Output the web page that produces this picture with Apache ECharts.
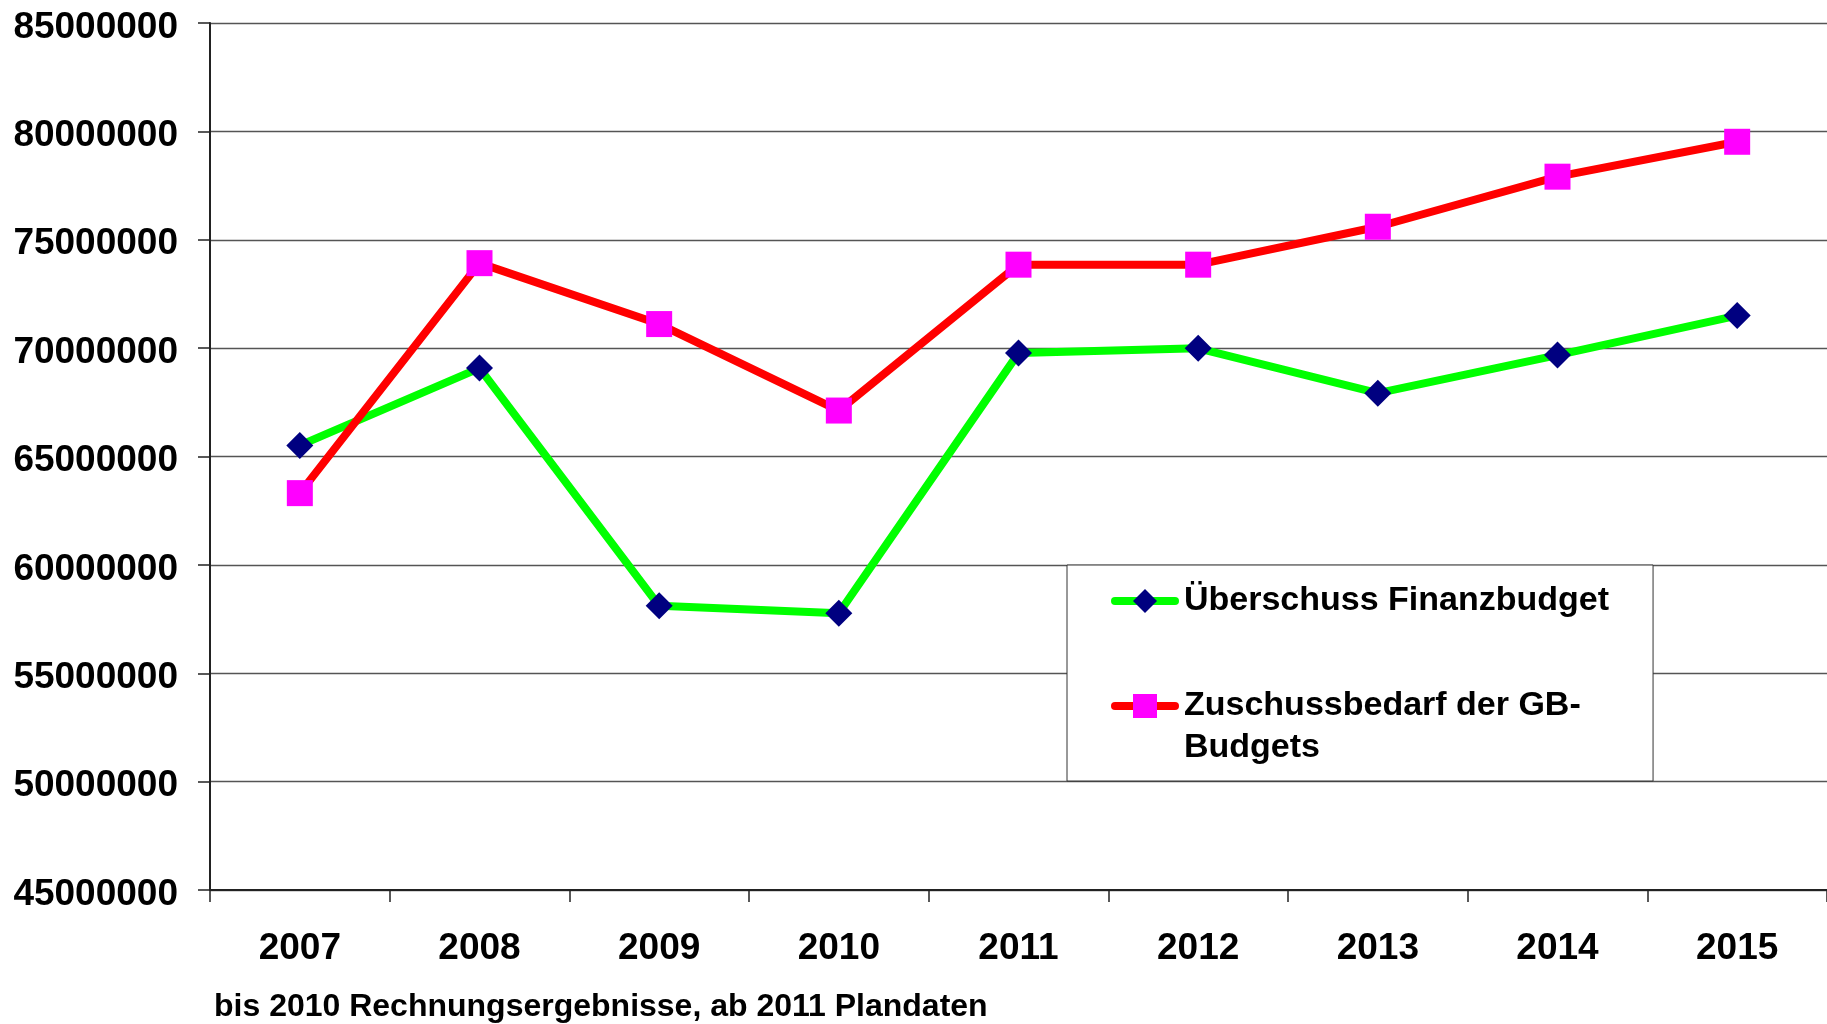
<!DOCTYPE html>
<html>
<head>
<meta charset="utf-8">
<script src="https://cdn.jsdelivr.net/npm/echarts@6/dist/echarts.min.js"></script>
<style>
html, body { margin: 0; padding: 0; background: #fff; }
#chart { width: 1827px; height: 1024px; }
</style>
</head>
<body>
<div id="chart"></div>
<script>
const categories = ['2007', '2008', '2009', '2010', '2011', '2012', '2013', '2014', '2015'];
const ueberschussFinanzbudget = [65510000, 69080000, 58110000, 57770000, 69770000, 69990000, 67920000, 69680000, 71500000];
const zuschussbedarfGB = [63310000, 73920000, 71110000, 67120000, 73850000, 73850000, 75600000, 77910000, 79520000];
const seriesNames = ['Überschuss Finanzbudget', 'Zuschussbedarf der GB-\nBudgets'];
const footnote = 'bis 2010 Rechnungsergebnisse, ab 2011 Plandaten';
const yMin = 45000000, yMax = 85000000, yStep = 5000000;

const FONT = '"Liberation Sans", Arial, sans-serif';
const chart = echarts.init(document.getElementById('chart'), null, { renderer: 'canvas' });

chart.setOption({
  animation: false,
  backgroundColor: '#ffffff',
  title: {
    text: footnote,
    left: 214,
    top: 991,
    padding: 0,
    textStyle: { fontFamily: FONT, fontWeight: 'bold', fontSize: 32, color: '#000' }
  },
  grid: { left: 210, top: 23, width: 1620, height: 867, containLabel: false },
  legend: {
    orient: 'vertical',
    left: 1067,
    top: 565,
    padding: [15, 44, 12, 44],
    itemGap: 21,
    itemWidth: 60,
    itemHeight: 30,
    backgroundColor: '#ffffff',
    borderColor: '#333333',
    borderWidth: 1,
    lineStyle: { width: 8, cap: 'round' },
    textStyle: { fontFamily: FONT, fontWeight: 'bold', fontSize: 34, color: '#000', lineHeight: 42 },
    // second entry wraps, with its icon level with the first line
    formatter: name => (name === seriesNames[1] ? '\n' + name : name),
    data: [
      { name: seriesNames[0], textStyle: { padding: [0, 0, 0, 4] } },
      { name: seriesNames[1], textStyle: { padding: [0, 0, 0, 4] } }
    ]
  },
  xAxis: {
    type: 'category',
    data: categories,
    boundaryGap: true,
    axisLine: { show: true, lineStyle: { color: '#222', width: 2 } },
    axisTick: { show: true, length: 12, alignWithLabel: false, interval: 0, lineStyle: { color: '#222', width: 1.5 } },
    axisLabel: { margin: 40, interval: 0, fontFamily: FONT, fontWeight: 'bold', fontSize: 37, color: '#000' },
    splitLine: { show: false }
  },
  yAxis: {
    type: 'value',
    min: yMin,
    max: yMax,
    interval: yStep,
    axisLine: { show: true, lineStyle: { color: '#222', width: 2 } },
    axisTick: { show: true, length: 12, lineStyle: { color: '#222', width: 1.5 } },
    axisLabel: { margin: 32, verticalAlign: 'top', lineHeight: 9, fontFamily: FONT, fontWeight: 'bold', fontSize: 37, color: '#000', formatter: v => String(v) },
    splitLine: { show: true, lineStyle: { color: '#555', width: 1.3 } }
  },
  series: [
    {
      name: seriesNames[0],
      type: 'line',
      data: ueberschussFinanzbudget,
      symbol: 'diamond',
      symbolSize: 27,
      lineStyle: { color: '#00ff00', width: 8 },
      itemStyle: { color: '#000080' }
    },
    {
      name: seriesNames[1],
      type: 'line',
      data: zuschussbedarfGB,
      symbol: 'rect',
      symbolSize: 26,
      lineStyle: { color: '#ff0000', width: 8 },
      itemStyle: { color: '#ff00ff' }
    }
  ]
});
</script>
</body>
</html>
